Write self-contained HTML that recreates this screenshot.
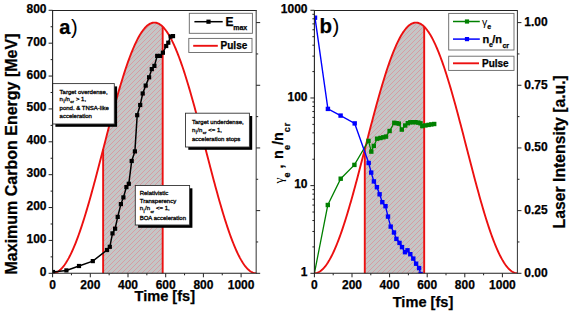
<!DOCTYPE html>
<html><head><meta charset="utf-8"><style>
html,body{margin:0;padding:0;background:#fff;}
svg{display:block;}
text{font-family:"Liberation Sans",sans-serif;fill:#000;}
text[font-weight="bold"]{stroke:#000;stroke-width:0.25px;}
tspan[font-weight="normal"]{stroke:none;}
</style></head><body>
<svg width="571" height="313" viewBox="0 0 571 313" font-family="Liberation Sans, sans-serif">
<defs>
<pattern id="hatch" patternUnits="userSpaceOnUse" x="0" y="0" width="5" height="5" shape-rendering="crispEdges"><rect x="4" y="0" width="1" height="1" fill="#d69ca3"/><rect x="3" y="1" width="1" height="1" fill="#d69ca3"/><rect x="2" y="2" width="1" height="1" fill="#d69ca3"/><rect x="1" y="3" width="1" height="1" fill="#d69ca3"/><rect x="0" y="4" width="1" height="1" fill="#d69ca3"/></pattern>
<clipPath id="ca"><rect x="52.6" y="10.3" width="203.6" height="263"/></clipPath>
<clipPath id="cb"><rect x="314.4" y="10.3" width="203" height="263"/></clipPath>
</defs>
<rect width="571" height="313" fill="#fff"/>
<polygon points="103.12,273.3 103.12,149.41 103.86,146.53 104.61,143.65 105.35,140.77 106.1,137.9 106.84,135.03 107.59,132.17 108.33,129.31 109.07,126.47 109.82,123.64 110.56,120.82 111.31,118.01 112.05,115.23 112.8,112.45 113.54,109.7 114.29,106.97 115.03,104.26 115.78,101.57 116.52,98.9 117.26,96.27 118.01,93.66 118.75,91.07 119.5,88.52 120.24,86 120.99,83.52 121.73,81.06 122.48,78.64 123.22,76.26 123.97,73.92 124.71,71.61 125.46,69.35 126.2,67.13 126.94,64.95 127.69,62.81 128.43,60.72 129.18,58.67 129.92,56.67 130.67,54.72 131.41,52.82 132.16,50.97 132.9,49.17 133.65,47.43 134.39,45.73 135.13,44.09 135.88,42.51 136.62,40.98 137.37,39.5 138.11,38.09 138.86,36.73 139.6,35.43 140.35,34.19 141.09,33.01 141.84,31.89 142.58,30.83 143.33,29.84 144.07,28.91 144.81,28.03 145.56,27.23 146.3,26.48 147.05,25.8 147.79,25.19 148.54,24.64 149.28,24.15 150.03,23.74 150.77,23.38 151.52,23.09 152.26,22.87 153,22.71 153.75,22.62 154.49,22.6 155.24,22.64 155.98,22.75 156.73,22.93 157.47,23.17 158.22,23.47 158.96,23.85 159.71,24.28 160.45,24.79 161.19,25.35 161.94,25.99 162.68,26.68 162.68,273.3" fill="#c4c6c6"/>
<polygon points="103.12,273.3 103.12,149.41 103.86,146.53 104.61,143.65 105.35,140.77 106.1,137.9 106.84,135.03 107.59,132.17 108.33,129.31 109.07,126.47 109.82,123.64 110.56,120.82 111.31,118.01 112.05,115.23 112.8,112.45 113.54,109.7 114.29,106.97 115.03,104.26 115.78,101.57 116.52,98.9 117.26,96.27 118.01,93.66 118.75,91.07 119.5,88.52 120.24,86 120.99,83.52 121.73,81.06 122.48,78.64 123.22,76.26 123.97,73.92 124.71,71.61 125.46,69.35 126.2,67.13 126.94,64.95 127.69,62.81 128.43,60.72 129.18,58.67 129.92,56.67 130.67,54.72 131.41,52.82 132.16,50.97 132.9,49.17 133.65,47.43 134.39,45.73 135.13,44.09 135.88,42.51 136.62,40.98 137.37,39.5 138.11,38.09 138.86,36.73 139.6,35.43 140.35,34.19 141.09,33.01 141.84,31.89 142.58,30.83 143.33,29.84 144.07,28.91 144.81,28.03 145.56,27.23 146.3,26.48 147.05,25.8 147.79,25.19 148.54,24.64 149.28,24.15 150.03,23.74 150.77,23.38 151.52,23.09 152.26,22.87 153,22.71 153.75,22.62 154.49,22.6 155.24,22.64 155.98,22.75 156.73,22.93 157.47,23.17 158.22,23.47 158.96,23.85 159.71,24.28 160.45,24.79 161.19,25.35 161.94,25.99 162.68,26.68 162.68,273.3" fill="url(#hatch)"/>
<polyline points="52.6,273.3 53.45,273.26 54.3,273.13 55.14,272.91 55.99,272.61 56.84,272.23 57.69,271.76 58.54,271.2 59.39,270.56 60.23,269.84 61.08,269.03 61.93,268.14 62.78,267.16 63.63,266.11 64.48,264.97 65.32,263.76 66.17,262.46 67.02,261.09 67.87,259.64 68.72,258.11 69.56,256.51 70.41,254.83 71.26,253.08 72.11,251.25 72.96,249.36 73.81,247.4 74.65,245.37 75.5,243.27 76.35,241.1 77.2,238.88 78.05,236.59 78.9,234.24 79.74,231.83 80.59,229.36 81.44,226.84 82.29,224.26 83.14,221.63 83.99,218.95 84.83,216.22 85.68,213.45 86.53,210.63 87.38,207.76 88.23,204.86 89.07,201.91 89.92,198.93 90.77,195.92 91.62,192.87 92.47,189.79 93.32,186.69 94.16,183.55 95.01,180.39 95.86,177.21 96.71,174.01 97.56,170.79 98.41,167.56 99.25,164.31 100.1,161.05 100.95,157.78 101.8,154.51 102.65,151.23 103.5,147.95 104.34,144.67 105.19,141.39 106.04,138.12 106.89,134.85 107.74,131.59 108.58,128.34 109.43,125.11 110.28,121.89 111.13,118.69 111.98,115.51 112.83,112.35 113.67,109.21 114.52,106.11 115.37,103.03 116.22,99.98 117.07,96.97 117.92,93.99 118.76,91.04 119.61,88.14 120.46,85.28 121.31,82.45 122.16,79.68 123,76.95 123.85,74.27 124.7,71.64 125.55,69.06 126.4,66.54 127.25,64.07 128.09,61.66 128.94,59.31 129.79,57.02 130.64,54.8 131.49,52.63 132.34,50.53 133.18,48.5 134.03,46.54 134.88,44.65 135.73,42.82 136.58,41.07 137.43,39.39 138.27,37.79 139.12,36.26 139.97,34.81 140.82,33.44 141.67,32.14 142.51,30.93 143.36,29.79 144.21,28.74 145.06,27.76 145.91,26.87 146.76,26.06 147.6,25.34 148.45,24.7 149.3,24.14 150.15,23.67 151,23.29 151.85,22.99 152.69,22.77 153.54,22.64 154.39,22.6 155.24,22.64 156.09,22.77 156.93,22.99 157.78,23.29 158.63,23.67 159.48,24.14 160.33,24.7 161.18,25.34 162.02,26.06 162.87,26.87 163.72,27.76 164.57,28.74 165.42,29.79 166.27,30.93 167.11,32.14 167.96,33.44 168.81,34.81 169.66,36.26 170.51,37.79 171.35,39.39 172.2,41.07 173.05,42.82 173.9,44.65 174.75,46.54 175.6,48.5 176.44,50.53 177.29,52.63 178.14,54.8 178.99,57.02 179.84,59.31 180.69,61.66 181.53,64.07 182.38,66.54 183.23,69.06 184.08,71.64 184.93,74.27 185.78,76.95 186.62,79.68 187.47,82.45 188.32,85.28 189.17,88.14 190.02,91.04 190.86,93.99 191.71,96.97 192.56,99.98 193.41,103.03 194.26,106.11 195.11,109.21 195.95,112.35 196.8,115.51 197.65,118.69 198.5,121.89 199.35,125.11 200.2,128.34 201.04,131.59 201.89,134.85 202.74,138.12 203.59,141.39 204.44,144.67 205.28,147.95 206.13,151.23 206.98,154.51 207.83,157.78 208.68,161.05 209.53,164.31 210.37,167.56 211.22,170.79 212.07,174.01 212.92,177.21 213.77,180.39 214.62,183.55 215.46,186.69 216.31,189.79 217.16,192.87 218.01,195.92 218.86,198.93 219.71,201.91 220.55,204.86 221.4,207.76 222.25,210.63 223.1,213.45 223.95,216.22 224.79,218.95 225.64,221.63 226.49,224.26 227.34,226.84 228.19,229.36 229.04,231.83 229.88,234.24 230.73,236.59 231.58,238.88 232.43,241.1 233.28,243.27 234.13,245.37 234.97,247.4 235.82,249.36 236.67,251.25 237.52,253.08 238.37,254.83 239.22,256.51 240.06,258.11 240.91,259.64 241.76,261.09 242.61,262.46 243.46,263.76 244.3,264.97 245.15,266.11 246,267.16 246.85,268.14 247.7,269.03 248.55,269.84 249.39,270.56 250.24,271.2 251.09,271.76 251.94,272.23 252.79,272.61 253.64,272.91 254.48,273.13 255.33,273.26 256.18,273.3" fill="none" stroke="#ec1010" stroke-width="1.9" clip-path="url(#ca)"/>
<line x1="103.12" y1="273.3" x2="103.12" y2="149.41" stroke="#ec1010" stroke-width="1.9"/>
<line x1="162.68" y1="273.3" x2="162.68" y2="26.68" stroke="#ec1010" stroke-width="1.9"/>
<g clip-path="url(#ca)">
<polyline points="53,272 66.4,270.4 79,266 92.8,261.1 107,250 109.8,246.8 112.5,233.4 115.1,228.7 117.7,216.9 120.9,204.1 123.4,197.4 126.4,187.1 128.8,183.8 131.7,161 134.9,151.4 137.2,115.2 140.2,105 142.7,93.5 145.7,85.6 149.1,77.3 151.8,69.1 154.4,65.9 157.2,55.9 160.1,55.9 162.9,52.7 166.2,46 168.3,42.7 170.6,36.5 173,36.1" fill="none" stroke="#000" stroke-width="1.5"/>
<rect x="50.9" y="269.9" width="4.2" height="4.2" fill="#000"/>
<rect x="64.3" y="268.3" width="4.2" height="4.2" fill="#000"/>
<rect x="76.9" y="263.9" width="4.2" height="4.2" fill="#000"/>
<rect x="90.7" y="259" width="4.2" height="4.2" fill="#000"/>
<rect x="104.9" y="247.9" width="4.2" height="4.2" fill="#000"/>
<rect x="107.7" y="244.7" width="4.2" height="4.2" fill="#000"/>
<rect x="110.4" y="231.3" width="4.2" height="4.2" fill="#000"/>
<rect x="113" y="226.6" width="4.2" height="4.2" fill="#000"/>
<rect x="115.6" y="214.8" width="4.2" height="4.2" fill="#000"/>
<rect x="118.8" y="202" width="4.2" height="4.2" fill="#000"/>
<rect x="121.3" y="195.3" width="4.2" height="4.2" fill="#000"/>
<rect x="124.3" y="185" width="4.2" height="4.2" fill="#000"/>
<rect x="126.7" y="181.7" width="4.2" height="4.2" fill="#000"/>
<rect x="129.6" y="158.9" width="4.2" height="4.2" fill="#000"/>
<rect x="132.8" y="149.3" width="4.2" height="4.2" fill="#000"/>
<rect x="135.1" y="113.1" width="4.2" height="4.2" fill="#000"/>
<rect x="138.1" y="102.9" width="4.2" height="4.2" fill="#000"/>
<rect x="140.6" y="91.4" width="4.2" height="4.2" fill="#000"/>
<rect x="143.6" y="83.5" width="4.2" height="4.2" fill="#000"/>
<rect x="147" y="75.2" width="4.2" height="4.2" fill="#000"/>
<rect x="149.7" y="67" width="4.2" height="4.2" fill="#000"/>
<rect x="152.3" y="63.8" width="4.2" height="4.2" fill="#000"/>
<rect x="155.1" y="53.8" width="4.2" height="4.2" fill="#000"/>
<rect x="158" y="53.8" width="4.2" height="4.2" fill="#000"/>
<rect x="160.8" y="50.6" width="4.2" height="4.2" fill="#000"/>
<rect x="164.1" y="43.9" width="4.2" height="4.2" fill="#000"/>
<rect x="166.2" y="40.6" width="4.2" height="4.2" fill="#000"/>
<rect x="168.5" y="34.4" width="4.2" height="4.2" fill="#000"/>
<rect x="170.9" y="34" width="4.2" height="4.2" fill="#000"/>
</g>
<rect x="55.4" y="86.4" width="61.7" height="40.4" fill="#000"/>
<rect x="52.6" y="83.6" width="61.7" height="40.4" fill="#fff" stroke="#333" stroke-width="0.9"/>
<text x="59.6" y="93.6" font-size="6" stroke="#000" stroke-width="0.3">Target overdense,</text>
<text x="59.6" y="101" font-size="6" stroke="#000" stroke-width="0.3">n<tspan font-size="4.6" dy="2.4" dx="0.5">i</tspan><tspan dy="-2.4" dx="0.4">/n</tspan><tspan font-size="4.4" dy="2.4" dx="0.4">cr</tspan><tspan dy="-2.4" dx="0.3"> &gt; 1,</tspan></text>
<text x="59.6" y="110.4" font-size="6" stroke="#000" stroke-width="0.3">pond. &amp; TNSA-like</text>
<text x="59.6" y="117.6" font-size="6" stroke="#000" stroke-width="0.3">acceleration</text>
<rect x="188.3" y="116" width="63.9" height="33.8" fill="#000"/>
<rect x="185.5" y="113.2" width="63.9" height="33.8" fill="#fff" stroke="#333" stroke-width="0.9"/>
<text x="192" y="124" font-size="6" stroke="#000" stroke-width="0.3">Target underdense,</text>
<text x="192" y="132" font-size="6" stroke="#000" stroke-width="0.3">n<tspan font-size="4.6" dy="2.4" dx="0.5">i</tspan><tspan dy="-2.4" dx="0.4">/n</tspan><tspan font-size="4.4" dy="2.4" dx="0.4">cr</tspan><tspan dy="-2.4" dx="0.3"> &lt;= 1,</tspan></text>
<text x="192" y="140.6" font-size="6" stroke="#000" stroke-width="0.3">acceleration stops</text>
<rect x="138.1" y="188.3" width="54.3" height="39.5" fill="#000"/>
<rect x="135.3" y="185.5" width="54.3" height="39.5" fill="#fff" stroke="#333" stroke-width="0.9"/>
<text x="139.7" y="195" font-size="6" stroke="#000" stroke-width="0.3">Relativistic</text>
<text x="139.7" y="203" font-size="6" stroke="#000" stroke-width="0.3">Transperency</text>
<text x="139.7" y="210.4" font-size="6" stroke="#000" stroke-width="0.3">n<tspan font-size="4.6" dy="2.4" dx="0.5">i</tspan><tspan dy="-2.4" dx="0.4">/n</tspan><tspan font-size="4.4" dy="2.4" dx="0.4">cr</tspan><tspan dy="-2.4" dx="0.3"> &lt;= 1,</tspan></text>
<text x="139.7" y="219.7" font-size="6" stroke="#000" stroke-width="0.3">BOA acceleration</text>
<line x1="52.1" y1="10.5" x2="256.68" y2="10.5" stroke="#222" stroke-width="1.1"/>
<line x1="52.6" y1="10" x2="52.6" y2="273.8" stroke="#222" stroke-width="1.1"/>
<line x1="52.1" y1="273.3" x2="256.68" y2="273.3" stroke="#222" stroke-width="1.1"/>
<line x1="256.18" y1="10" x2="256.18" y2="273.8" stroke="#444" stroke-width="1.1"/>
<line x1="52.6" y1="273.3" x2="52.6" y2="277.3" stroke="#222" stroke-width="1"/>
<text x="52.6" y="288.8" text-anchor="middle" font-size="12" font-weight="bold">0</text>
<line x1="71.45" y1="273.3" x2="71.45" y2="275.3" stroke="#222" stroke-width="1"/>
<line x1="90.3" y1="273.3" x2="90.3" y2="277.3" stroke="#222" stroke-width="1"/>
<text x="90.3" y="288.8" text-anchor="middle" font-size="12" font-weight="bold">200</text>
<line x1="109.15" y1="273.3" x2="109.15" y2="275.3" stroke="#222" stroke-width="1"/>
<line x1="128" y1="273.3" x2="128" y2="277.3" stroke="#222" stroke-width="1"/>
<text x="128" y="288.8" text-anchor="middle" font-size="12" font-weight="bold">400</text>
<line x1="146.85" y1="273.3" x2="146.85" y2="275.3" stroke="#222" stroke-width="1"/>
<line x1="165.7" y1="273.3" x2="165.7" y2="277.3" stroke="#222" stroke-width="1"/>
<text x="165.7" y="288.8" text-anchor="middle" font-size="12" font-weight="bold">600</text>
<line x1="184.55" y1="273.3" x2="184.55" y2="275.3" stroke="#222" stroke-width="1"/>
<line x1="203.4" y1="273.3" x2="203.4" y2="277.3" stroke="#222" stroke-width="1"/>
<text x="203.4" y="288.8" text-anchor="middle" font-size="12" font-weight="bold">800</text>
<line x1="222.25" y1="273.3" x2="222.25" y2="275.3" stroke="#222" stroke-width="1"/>
<line x1="241.1" y1="273.3" x2="241.1" y2="277.3" stroke="#222" stroke-width="1"/>
<text x="241.1" y="288.8" text-anchor="middle" font-size="12" font-weight="bold">1000</text>
<line x1="256.18" y1="273.3" x2="260.18" y2="273.3" stroke="#222" stroke-width="1"/>
<line x1="256.18" y1="241.96" x2="258.18" y2="241.96" stroke="#222" stroke-width="1"/>
<line x1="256.18" y1="210.62" x2="260.18" y2="210.62" stroke="#222" stroke-width="1"/>
<line x1="256.18" y1="179.29" x2="258.18" y2="179.29" stroke="#222" stroke-width="1"/>
<line x1="256.18" y1="147.95" x2="260.18" y2="147.95" stroke="#222" stroke-width="1"/>
<line x1="256.18" y1="116.61" x2="258.18" y2="116.61" stroke="#222" stroke-width="1"/>
<line x1="256.18" y1="85.28" x2="260.18" y2="85.28" stroke="#222" stroke-width="1"/>
<line x1="256.18" y1="53.94" x2="258.18" y2="53.94" stroke="#222" stroke-width="1"/>
<line x1="256.18" y1="22.6" x2="260.18" y2="22.6" stroke="#222" stroke-width="1"/>
<line x1="48.6" y1="273.3" x2="52.6" y2="273.3" stroke="#222" stroke-width="1"/>
<text x="46.5" y="275.8" text-anchor="end" font-size="12" font-weight="bold">0</text>
<line x1="50.6" y1="256.86" x2="52.6" y2="256.86" stroke="#222" stroke-width="1"/>
<line x1="48.6" y1="240.43" x2="52.6" y2="240.43" stroke="#222" stroke-width="1"/>
<text x="46.5" y="242.93" text-anchor="end" font-size="12" font-weight="bold">100</text>
<line x1="50.6" y1="223.99" x2="52.6" y2="223.99" stroke="#222" stroke-width="1"/>
<line x1="48.6" y1="207.55" x2="52.6" y2="207.55" stroke="#222" stroke-width="1"/>
<text x="46.5" y="210.05" text-anchor="end" font-size="12" font-weight="bold">200</text>
<line x1="50.6" y1="191.11" x2="52.6" y2="191.11" stroke="#222" stroke-width="1"/>
<line x1="48.6" y1="174.68" x2="52.6" y2="174.68" stroke="#222" stroke-width="1"/>
<text x="46.5" y="177.18" text-anchor="end" font-size="12" font-weight="bold">300</text>
<line x1="50.6" y1="158.24" x2="52.6" y2="158.24" stroke="#222" stroke-width="1"/>
<line x1="48.6" y1="141.8" x2="52.6" y2="141.8" stroke="#222" stroke-width="1"/>
<text x="46.5" y="144.3" text-anchor="end" font-size="12" font-weight="bold">400</text>
<line x1="50.6" y1="125.36" x2="52.6" y2="125.36" stroke="#222" stroke-width="1"/>
<line x1="48.6" y1="108.93" x2="52.6" y2="108.93" stroke="#222" stroke-width="1"/>
<text x="46.5" y="111.43" text-anchor="end" font-size="12" font-weight="bold">500</text>
<line x1="50.6" y1="92.49" x2="52.6" y2="92.49" stroke="#222" stroke-width="1"/>
<line x1="48.6" y1="76.05" x2="52.6" y2="76.05" stroke="#222" stroke-width="1"/>
<text x="46.5" y="78.55" text-anchor="end" font-size="12" font-weight="bold">600</text>
<line x1="50.6" y1="59.61" x2="52.6" y2="59.61" stroke="#222" stroke-width="1"/>
<line x1="48.6" y1="43.18" x2="52.6" y2="43.18" stroke="#222" stroke-width="1"/>
<text x="46.5" y="45.68" text-anchor="end" font-size="12" font-weight="bold">700</text>
<line x1="50.6" y1="26.74" x2="52.6" y2="26.74" stroke="#222" stroke-width="1"/>
<line x1="48.6" y1="10.3" x2="52.6" y2="10.3" stroke="#222" stroke-width="1"/>
<text x="46.5" y="12.8" text-anchor="end" font-size="12" font-weight="bold">800</text>
<text x="164.8" y="300.7" text-anchor="middle" font-size="14.6" font-weight="bold">Time [fs]</text>
<text transform="translate(17.1,154) rotate(-90)" text-anchor="middle" font-size="16" font-weight="bold">Maximum Carbon Energy [MeV]</text>
<text x="59.2" y="34" font-size="20" font-weight="bold">a<tspan font-weight="normal" dx="0.6">)</tspan></text>
<rect x="189.3" y="13.3" width="63.1" height="20" fill="#fff" stroke="#666" stroke-width="0.9"/>
<line x1="194.4" y1="21.7" x2="222.7" y2="21.7" stroke="#000" stroke-width="1.5"/>
<rect x="206.4" y="19.6" width="4.2" height="4.2" fill="#000"/>
<text x="225.6" y="25.8" font-size="12" font-weight="bold">E</text>
<text x="233.2" y="30.4" font-size="7" font-weight="bold">max</text>
<rect x="188.8" y="38.4" width="63.2" height="14.1" fill="#fff" stroke="#666" stroke-width="0.9"/>
<line x1="193.2" y1="45.8" x2="217.8" y2="45.8" stroke="#ec1010" stroke-width="1.9"/>
<text x="220.6" y="49" font-size="10" font-weight="bold">Pulse</text>
<polygon points="364.78,273.3 364.78,149.41 365.53,146.53 366.27,143.65 367.01,140.77 367.75,137.9 368.5,135.03 369.24,132.17 369.98,129.31 370.72,126.47 371.47,123.64 372.21,120.82 372.95,118.01 373.7,115.23 374.44,112.45 375.18,109.7 375.92,106.97 376.67,104.26 377.41,101.57 378.15,98.9 378.89,96.27 379.64,93.66 380.38,91.07 381.12,88.52 381.86,86 382.61,83.52 383.35,81.06 384.09,78.64 384.83,76.26 385.58,73.92 386.32,71.61 387.06,69.35 387.8,67.13 388.55,64.95 389.29,62.81 390.03,60.72 390.77,58.67 391.52,56.67 392.26,54.72 393,52.82 393.75,50.97 394.49,49.17 395.23,47.43 395.97,45.73 396.72,44.09 397.46,42.51 398.2,40.98 398.94,39.5 399.69,38.09 400.43,36.73 401.17,35.43 401.91,34.19 402.66,33.01 403.4,31.89 404.14,30.83 404.88,29.84 405.63,28.91 406.37,28.03 407.11,27.23 407.85,26.48 408.6,25.8 409.34,25.19 410.08,24.64 410.83,24.15 411.57,23.74 412.31,23.38 413.05,23.09 413.8,22.87 414.54,22.71 415.28,22.62 416.02,22.6 416.77,22.64 417.51,22.75 418.25,22.93 418.99,23.17 419.74,23.47 420.48,23.85 421.22,24.28 421.96,24.79 422.71,25.35 423.45,25.99 424.19,26.68 424.19,273.3" fill="#c4c6c6"/>
<polygon points="364.78,273.3 364.78,149.41 365.53,146.53 366.27,143.65 367.01,140.77 367.75,137.9 368.5,135.03 369.24,132.17 369.98,129.31 370.72,126.47 371.47,123.64 372.21,120.82 372.95,118.01 373.7,115.23 374.44,112.45 375.18,109.7 375.92,106.97 376.67,104.26 377.41,101.57 378.15,98.9 378.89,96.27 379.64,93.66 380.38,91.07 381.12,88.52 381.86,86 382.61,83.52 383.35,81.06 384.09,78.64 384.83,76.26 385.58,73.92 386.32,71.61 387.06,69.35 387.8,67.13 388.55,64.95 389.29,62.81 390.03,60.72 390.77,58.67 391.52,56.67 392.26,54.72 393,52.82 393.75,50.97 394.49,49.17 395.23,47.43 395.97,45.73 396.72,44.09 397.46,42.51 398.2,40.98 398.94,39.5 399.69,38.09 400.43,36.73 401.17,35.43 401.91,34.19 402.66,33.01 403.4,31.89 404.14,30.83 404.88,29.84 405.63,28.91 406.37,28.03 407.11,27.23 407.85,26.48 408.6,25.8 409.34,25.19 410.08,24.64 410.83,24.15 411.57,23.74 412.31,23.38 413.05,23.09 413.8,22.87 414.54,22.71 415.28,22.62 416.02,22.6 416.77,22.64 417.51,22.75 418.25,22.93 418.99,23.17 419.74,23.47 420.48,23.85 421.22,24.28 421.96,24.79 422.71,25.35 423.45,25.99 424.19,26.68 424.19,273.3" fill="url(#hatch)"/>
<polyline points="314.4,273.3 315.25,273.26 316.09,273.13 316.94,272.91 317.78,272.61 318.63,272.23 319.48,271.76 320.32,271.2 321.17,270.56 322.01,269.84 322.86,269.03 323.71,268.14 324.55,267.16 325.4,266.11 326.24,264.97 327.09,263.76 327.94,262.46 328.78,261.09 329.63,259.64 330.47,258.11 331.32,256.51 332.17,254.83 333.01,253.08 333.86,251.25 334.7,249.36 335.55,247.4 336.4,245.37 337.24,243.27 338.09,241.1 338.93,238.88 339.78,236.59 340.63,234.24 341.47,231.83 342.32,229.36 343.16,226.84 344.01,224.26 344.86,221.63 345.7,218.95 346.55,216.22 347.39,213.45 348.24,210.63 349.09,207.76 349.93,204.86 350.78,201.91 351.62,198.93 352.47,195.92 353.32,192.87 354.16,189.79 355.01,186.69 355.85,183.55 356.7,180.39 357.55,177.21 358.39,174.01 359.24,170.79 360.08,167.56 360.93,164.31 361.78,161.05 362.62,157.78 363.47,154.51 364.31,151.23 365.16,147.95 366.01,144.67 366.85,141.39 367.7,138.12 368.54,134.85 369.39,131.59 370.24,128.34 371.08,125.11 371.93,121.89 372.77,118.69 373.62,115.51 374.47,112.35 375.31,109.21 376.16,106.11 377,103.03 377.85,99.98 378.7,96.97 379.54,93.99 380.39,91.04 381.23,88.14 382.08,85.28 382.93,82.45 383.77,79.68 384.62,76.95 385.46,74.27 386.31,71.64 387.16,69.06 388,66.54 388.85,64.07 389.69,61.66 390.54,59.31 391.39,57.02 392.23,54.8 393.08,52.63 393.92,50.53 394.77,48.5 395.62,46.54 396.46,44.65 397.31,42.82 398.15,41.07 399,39.39 399.85,37.79 400.69,36.26 401.54,34.81 402.38,33.44 403.23,32.14 404.08,30.93 404.92,29.79 405.77,28.74 406.61,27.76 407.46,26.87 408.31,26.06 409.15,25.34 410,24.7 410.84,24.14 411.69,23.67 412.54,23.29 413.38,22.99 414.23,22.77 415.07,22.64 415.92,22.6 416.77,22.64 417.61,22.77 418.46,22.99 419.3,23.29 420.15,23.67 421,24.14 421.84,24.7 422.69,25.34 423.53,26.06 424.38,26.87 425.23,27.76 426.07,28.74 426.92,29.79 427.76,30.93 428.61,32.14 429.46,33.44 430.3,34.81 431.15,36.26 431.99,37.79 432.84,39.39 433.69,41.07 434.53,42.82 435.38,44.65 436.22,46.54 437.07,48.5 437.92,50.53 438.76,52.63 439.61,54.8 440.45,57.02 441.3,59.31 442.15,61.66 442.99,64.07 443.84,66.54 444.68,69.06 445.53,71.64 446.38,74.27 447.22,76.95 448.07,79.68 448.91,82.45 449.76,85.28 450.61,88.14 451.45,91.04 452.3,93.99 453.14,96.97 453.99,99.98 454.84,103.03 455.68,106.11 456.53,109.21 457.37,112.35 458.22,115.51 459.07,118.69 459.91,121.89 460.76,125.11 461.6,128.34 462.45,131.59 463.3,134.85 464.14,138.12 464.99,141.39 465.83,144.67 466.68,147.95 467.53,151.23 468.37,154.51 469.22,157.78 470.06,161.05 470.91,164.31 471.76,167.56 472.6,170.79 473.45,174.01 474.29,177.21 475.14,180.39 475.99,183.55 476.83,186.69 477.68,189.79 478.52,192.87 479.37,195.92 480.22,198.93 481.06,201.91 481.91,204.86 482.75,207.76 483.6,210.63 484.45,213.45 485.29,216.22 486.14,218.95 486.98,221.63 487.83,224.26 488.68,226.84 489.52,229.36 490.37,231.83 491.21,234.24 492.06,236.59 492.91,238.88 493.75,241.1 494.6,243.27 495.44,245.37 496.29,247.4 497.14,249.36 497.98,251.25 498.83,253.08 499.67,254.83 500.52,256.51 501.37,258.11 502.21,259.64 503.06,261.09 503.9,262.46 504.75,263.76 505.6,264.97 506.44,266.11 507.29,267.16 508.13,268.14 508.98,269.03 509.83,269.84 510.67,270.56 511.52,271.2 512.36,271.76 513.21,272.23 514.06,272.61 514.9,272.91 515.75,273.13 516.59,273.26 517.44,273.3" fill="none" stroke="#ec1010" stroke-width="1.9" clip-path="url(#cb)"/>
<line x1="364.78" y1="273.3" x2="364.78" y2="149.41" stroke="#ec1010" stroke-width="1.9"/>
<line x1="424.19" y1="273.3" x2="424.19" y2="26.68" stroke="#ec1010" stroke-width="1.9"/>
<g clip-path="url(#cb)">
<polyline points="314.4,273.3 327.8,205 340.7,178.7 354.4,164.9 368.5,140.9 371.3,151.6 373.8,145.9 377.1,138.7 380.4,138 383.3,137.3 386,136.6 389.6,131 394.3,122.8 396.6,123.2 398.8,123.6 401.8,129.6 405.2,125.5 407.8,123.2 410.3,122.3 412.9,122.2 415.5,122.2 418.3,122.6 420.5,123.3 422.3,126.1 425.4,125.4 428.6,124.9 431.3,124.4 434.2,124" fill="none" stroke="#008000" stroke-width="1.3"/>
<rect x="325.6" y="202.8" width="4.4" height="4.4" fill="#008000"/>
<rect x="338.5" y="176.5" width="4.4" height="4.4" fill="#008000"/>
<rect x="352.2" y="162.7" width="4.4" height="4.4" fill="#008000"/>
<rect x="366.3" y="138.7" width="4.4" height="4.4" fill="#008000"/>
<rect x="369.1" y="149.4" width="4.4" height="4.4" fill="#008000"/>
<rect x="371.6" y="143.7" width="4.4" height="4.4" fill="#008000"/>
<rect x="374.9" y="136.5" width="4.4" height="4.4" fill="#008000"/>
<rect x="378.2" y="135.8" width="4.4" height="4.4" fill="#008000"/>
<rect x="381.1" y="135.1" width="4.4" height="4.4" fill="#008000"/>
<rect x="383.8" y="134.4" width="4.4" height="4.4" fill="#008000"/>
<rect x="387.4" y="128.8" width="4.4" height="4.4" fill="#008000"/>
<rect x="392.1" y="120.6" width="4.4" height="4.4" fill="#008000"/>
<rect x="394.4" y="121" width="4.4" height="4.4" fill="#008000"/>
<rect x="396.6" y="121.4" width="4.4" height="4.4" fill="#008000"/>
<rect x="399.6" y="127.4" width="4.4" height="4.4" fill="#008000"/>
<rect x="403" y="123.3" width="4.4" height="4.4" fill="#008000"/>
<rect x="405.6" y="121" width="4.4" height="4.4" fill="#008000"/>
<rect x="408.1" y="120.1" width="4.4" height="4.4" fill="#008000"/>
<rect x="410.7" y="120" width="4.4" height="4.4" fill="#008000"/>
<rect x="413.3" y="120" width="4.4" height="4.4" fill="#008000"/>
<rect x="416.1" y="120.4" width="4.4" height="4.4" fill="#008000"/>
<rect x="418.3" y="121.1" width="4.4" height="4.4" fill="#008000"/>
<rect x="420.1" y="123.9" width="4.4" height="4.4" fill="#008000"/>
<rect x="423.2" y="123.2" width="4.4" height="4.4" fill="#008000"/>
<rect x="426.4" y="122.7" width="4.4" height="4.4" fill="#008000"/>
<rect x="429.1" y="122.2" width="4.4" height="4.4" fill="#008000"/>
<rect x="432" y="121.8" width="4.4" height="4.4" fill="#008000"/>
<polyline points="315,17.7 327.9,108.9 340.6,115.6 354.7,123.4 368.7,163 371.2,172.6 373.9,181.4 376.9,187.2 379.6,194.3 382.3,202.2 385.5,206.2 388,216.6 390.7,226.6 394,232.5 396.4,238.9 399.5,242.9 402,247.1 405,252.2 407.5,250.3 410.3,254.2 413.3,258.6 416.1,263.7 419.1,268.1 420.6,274" fill="none" stroke="#0000ff" stroke-width="1.4"/>
<rect x="312.8" y="15.5" width="4.4" height="4.4" fill="#0000ff"/>
<rect x="325.7" y="106.7" width="4.4" height="4.4" fill="#0000ff"/>
<rect x="338.4" y="113.4" width="4.4" height="4.4" fill="#0000ff"/>
<rect x="352.5" y="121.2" width="4.4" height="4.4" fill="#0000ff"/>
<rect x="366.5" y="160.8" width="4.4" height="4.4" fill="#0000ff"/>
<rect x="369" y="170.4" width="4.4" height="4.4" fill="#0000ff"/>
<rect x="371.7" y="179.2" width="4.4" height="4.4" fill="#0000ff"/>
<rect x="374.7" y="185" width="4.4" height="4.4" fill="#0000ff"/>
<rect x="377.4" y="192.1" width="4.4" height="4.4" fill="#0000ff"/>
<rect x="380.1" y="200" width="4.4" height="4.4" fill="#0000ff"/>
<rect x="383.3" y="204" width="4.4" height="4.4" fill="#0000ff"/>
<rect x="385.8" y="214.4" width="4.4" height="4.4" fill="#0000ff"/>
<rect x="388.5" y="224.4" width="4.4" height="4.4" fill="#0000ff"/>
<rect x="391.8" y="230.3" width="4.4" height="4.4" fill="#0000ff"/>
<rect x="394.2" y="236.7" width="4.4" height="4.4" fill="#0000ff"/>
<rect x="397.3" y="240.7" width="4.4" height="4.4" fill="#0000ff"/>
<rect x="399.8" y="244.9" width="4.4" height="4.4" fill="#0000ff"/>
<rect x="402.8" y="250" width="4.4" height="4.4" fill="#0000ff"/>
<rect x="405.3" y="248.1" width="4.4" height="4.4" fill="#0000ff"/>
<rect x="408.1" y="252" width="4.4" height="4.4" fill="#0000ff"/>
<rect x="411.1" y="256.4" width="4.4" height="4.4" fill="#0000ff"/>
<rect x="413.9" y="261.5" width="4.4" height="4.4" fill="#0000ff"/>
<rect x="416.9" y="265.9" width="4.4" height="4.4" fill="#0000ff"/>
<rect x="418.4" y="271.8" width="4.4" height="4.4" fill="#0000ff"/>
</g>
<line x1="313.9" y1="10.5" x2="517.94" y2="10.5" stroke="#222" stroke-width="1.1"/>
<line x1="314.4" y1="10" x2="314.4" y2="273.8" stroke="#222" stroke-width="1.1"/>
<line x1="313.9" y1="273.3" x2="517.94" y2="273.3" stroke="#222" stroke-width="1.1"/>
<line x1="517.44" y1="10" x2="517.44" y2="273.8" stroke="#444" stroke-width="1.1"/>
<line x1="314.4" y1="273.3" x2="314.4" y2="277.3" stroke="#222" stroke-width="1"/>
<text x="314.4" y="288.8" text-anchor="middle" font-size="12" font-weight="bold">0</text>
<line x1="333.2" y1="273.3" x2="333.2" y2="275.3" stroke="#222" stroke-width="1"/>
<line x1="352" y1="273.3" x2="352" y2="277.3" stroke="#222" stroke-width="1"/>
<text x="352" y="288.8" text-anchor="middle" font-size="12" font-weight="bold">200</text>
<line x1="370.8" y1="273.3" x2="370.8" y2="275.3" stroke="#222" stroke-width="1"/>
<line x1="389.6" y1="273.3" x2="389.6" y2="277.3" stroke="#222" stroke-width="1"/>
<text x="389.6" y="288.8" text-anchor="middle" font-size="12" font-weight="bold">400</text>
<line x1="408.4" y1="273.3" x2="408.4" y2="275.3" stroke="#222" stroke-width="1"/>
<line x1="427.2" y1="273.3" x2="427.2" y2="277.3" stroke="#222" stroke-width="1"/>
<text x="427.2" y="288.8" text-anchor="middle" font-size="12" font-weight="bold">600</text>
<line x1="446" y1="273.3" x2="446" y2="275.3" stroke="#222" stroke-width="1"/>
<line x1="464.8" y1="273.3" x2="464.8" y2="277.3" stroke="#222" stroke-width="1"/>
<text x="464.8" y="288.8" text-anchor="middle" font-size="12" font-weight="bold">800</text>
<line x1="483.6" y1="273.3" x2="483.6" y2="275.3" stroke="#222" stroke-width="1"/>
<line x1="502.4" y1="273.3" x2="502.4" y2="277.3" stroke="#222" stroke-width="1"/>
<text x="502.4" y="288.8" text-anchor="middle" font-size="12" font-weight="bold">1000</text>
<line x1="517.44" y1="273.3" x2="521.44" y2="273.3" stroke="#222" stroke-width="1"/>
<text x="524.24" y="276.7" font-size="12" font-weight="bold">0.00</text>
<line x1="517.44" y1="241.96" x2="519.44" y2="241.96" stroke="#222" stroke-width="1"/>
<line x1="517.44" y1="210.62" x2="521.44" y2="210.62" stroke="#222" stroke-width="1"/>
<text x="524.24" y="214.03" font-size="12" font-weight="bold">0.25</text>
<line x1="517.44" y1="179.29" x2="519.44" y2="179.29" stroke="#222" stroke-width="1"/>
<line x1="517.44" y1="147.95" x2="521.44" y2="147.95" stroke="#222" stroke-width="1"/>
<text x="524.24" y="151.35" font-size="12" font-weight="bold">0.50</text>
<line x1="517.44" y1="116.61" x2="519.44" y2="116.61" stroke="#222" stroke-width="1"/>
<line x1="517.44" y1="85.28" x2="521.44" y2="85.28" stroke="#222" stroke-width="1"/>
<text x="524.24" y="88.68" font-size="12" font-weight="bold">0.75</text>
<line x1="517.44" y1="53.94" x2="519.44" y2="53.94" stroke="#222" stroke-width="1"/>
<line x1="517.44" y1="22.6" x2="521.44" y2="22.6" stroke="#222" stroke-width="1"/>
<text x="524.24" y="26" font-size="12" font-weight="bold">1.00</text>
<line x1="310.4" y1="273.3" x2="314.4" y2="273.3" stroke="#222" stroke-width="1"/>
<line x1="312.4" y1="246.91" x2="314.4" y2="246.91" stroke="#222" stroke-width="1"/>
<line x1="312.4" y1="231.47" x2="314.4" y2="231.47" stroke="#222" stroke-width="1"/>
<line x1="312.4" y1="220.52" x2="314.4" y2="220.52" stroke="#222" stroke-width="1"/>
<line x1="312.4" y1="212.02" x2="314.4" y2="212.02" stroke="#222" stroke-width="1"/>
<line x1="312.4" y1="205.08" x2="314.4" y2="205.08" stroke="#222" stroke-width="1"/>
<line x1="312.4" y1="199.21" x2="314.4" y2="199.21" stroke="#222" stroke-width="1"/>
<line x1="312.4" y1="194.13" x2="314.4" y2="194.13" stroke="#222" stroke-width="1"/>
<line x1="312.4" y1="189.64" x2="314.4" y2="189.64" stroke="#222" stroke-width="1"/>
<line x1="310.4" y1="185.63" x2="314.4" y2="185.63" stroke="#222" stroke-width="1"/>
<line x1="312.4" y1="159.24" x2="314.4" y2="159.24" stroke="#222" stroke-width="1"/>
<line x1="312.4" y1="143.81" x2="314.4" y2="143.81" stroke="#222" stroke-width="1"/>
<line x1="312.4" y1="132.85" x2="314.4" y2="132.85" stroke="#222" stroke-width="1"/>
<line x1="312.4" y1="124.36" x2="314.4" y2="124.36" stroke="#222" stroke-width="1"/>
<line x1="312.4" y1="117.42" x2="314.4" y2="117.42" stroke="#222" stroke-width="1"/>
<line x1="312.4" y1="111.55" x2="314.4" y2="111.55" stroke="#222" stroke-width="1"/>
<line x1="312.4" y1="106.46" x2="314.4" y2="106.46" stroke="#222" stroke-width="1"/>
<line x1="312.4" y1="101.98" x2="314.4" y2="101.98" stroke="#222" stroke-width="1"/>
<line x1="310.4" y1="97.97" x2="314.4" y2="97.97" stroke="#222" stroke-width="1"/>
<line x1="312.4" y1="71.58" x2="314.4" y2="71.58" stroke="#222" stroke-width="1"/>
<line x1="312.4" y1="56.14" x2="314.4" y2="56.14" stroke="#222" stroke-width="1"/>
<line x1="312.4" y1="45.19" x2="314.4" y2="45.19" stroke="#222" stroke-width="1"/>
<line x1="312.4" y1="36.69" x2="314.4" y2="36.69" stroke="#222" stroke-width="1"/>
<line x1="312.4" y1="29.75" x2="314.4" y2="29.75" stroke="#222" stroke-width="1"/>
<line x1="312.4" y1="23.88" x2="314.4" y2="23.88" stroke="#222" stroke-width="1"/>
<line x1="312.4" y1="18.8" x2="314.4" y2="18.8" stroke="#222" stroke-width="1"/>
<line x1="312.4" y1="14.31" x2="314.4" y2="14.31" stroke="#222" stroke-width="1"/>
<line x1="310.4" y1="10.3" x2="314.4" y2="10.3" stroke="#222" stroke-width="1"/>
<text x="307.5" y="275.9" text-anchor="end" font-size="12" font-weight="bold">1</text>
<text x="307.5" y="188.23" text-anchor="end" font-size="12" font-weight="bold">10</text>
<text x="307.5" y="100.57" text-anchor="end" font-size="12" font-weight="bold">100</text>
<text x="307.5" y="12.9" text-anchor="end" font-size="12" font-weight="bold">1000</text>
<text x="423" y="307" text-anchor="middle" font-size="14.6" font-weight="bold">Time [fs]</text>
<text transform="translate(283.4,183.5) rotate(-90)" font-size="14.5" font-weight="bold"><tspan font-family="Liberation Serif, serif" font-weight="normal" font-size="13.5">&#947;</tspan><tspan font-size="9" dy="6.9">e</tspan><tspan dy="-6.9"> ,</tspan><tspan dx="1.5"> n</tspan><tspan font-size="9" dy="6.9">e</tspan><tspan dy="-6.9">/n</tspan><tspan font-size="9" dy="6.9" letter-spacing="0.8">cr</tspan></text>
<text transform="translate(565.3,151.8) rotate(-90)" text-anchor="middle" font-size="15.75" font-weight="bold">Laser Intensity [a.u.]</text>
<text x="319.6" y="33" font-size="20.5" font-weight="bold">b<tspan font-weight="normal" dx="0.4">)</tspan></text>
<rect x="448.7" y="13.4" width="65.3" height="36.6" fill="#fff" stroke="#666" stroke-width="0.9"/>
<line x1="453" y1="21.5" x2="479.8" y2="21.5" stroke="#008000" stroke-width="1.5"/>
<rect x="464.9" y="19.4" width="4.2" height="4.2" fill="#008000"/>
<line x1="453" y1="39.1" x2="479.8" y2="39.1" stroke="#0000ff" stroke-width="1.5"/>
<rect x="464.9" y="37" width="4.2" height="4.2" fill="#0000ff"/>
<text x="482" y="26.2" font-size="10.5" font-family="Liberation Serif, serif">&#947;</text>
<text x="487.2" y="29.4" font-size="7" font-weight="bold">e</text>
<text x="482.6" y="42.9" font-size="11" font-weight="bold">n</text>
<text x="488.9" y="47.3" font-size="7" font-weight="bold">e</text>
<text x="492.3" y="42.9" font-size="11" font-weight="bold">/n</text>
<text x="502.4" y="47.8" font-size="7" font-weight="bold">cr</text>
<rect x="448.7" y="56.2" width="65.3" height="14.2" fill="#fff" stroke="#666" stroke-width="0.9"/>
<line x1="453" y1="63.3" x2="479" y2="63.3" stroke="#ec1010" stroke-width="1.9"/>
<text x="482" y="67" font-size="10" font-weight="bold">Pulse</text>
</svg>
</body></html>
